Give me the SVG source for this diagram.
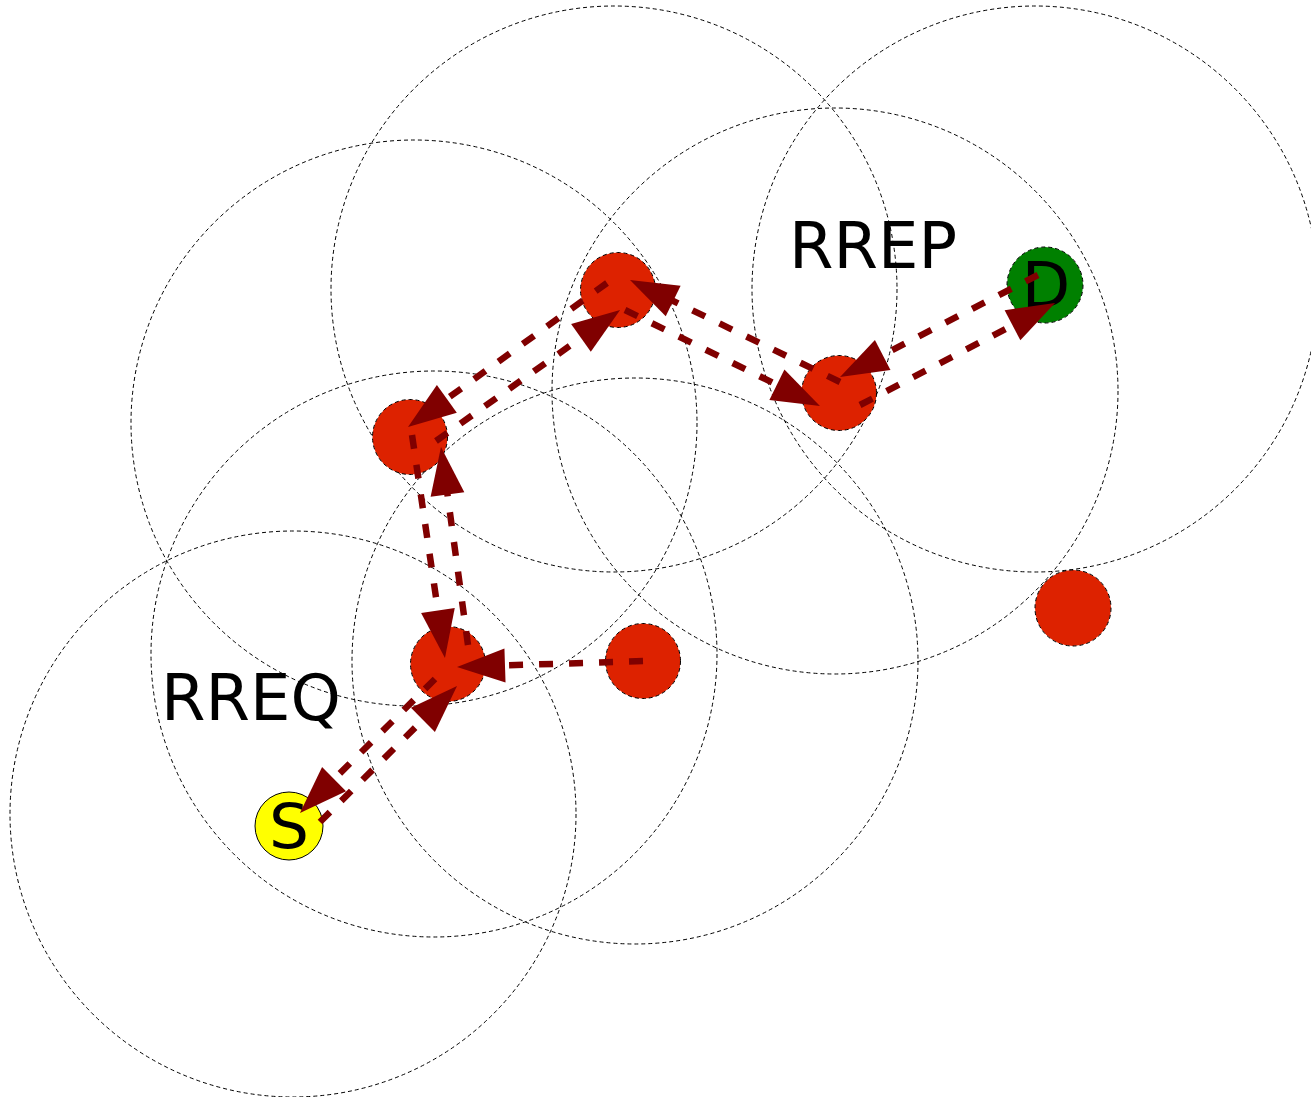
<svg xmlns="http://www.w3.org/2000/svg" width="1311" height="1097" viewBox="0 0 1311 1097">
  <style>
    .range { fill: none; stroke: #000; stroke-width: 1; stroke-dasharray: 4 3; }
    .node { fill: #dd2200; stroke: #000; stroke-width: 1; stroke-dasharray: 4 3; }
    .msg { fill: none; stroke: #800000; stroke-width: 6.5; stroke-dasharray: 14 16; marker-end: url(#head); }
    .label { font-family: "DejaVu Sans", sans-serif; font-size: 64px; fill: #000; }
    .nlabel { font-family: "DejaVu Sans", sans-serif; font-size: 63px; fill: #000; text-anchor: middle; }
  </style>
  <defs>
    <marker id="head" markerUnits="userSpaceOnUse" markerWidth="48" markerHeight="34" refX="36" refY="17" orient="auto" overflow="visible">
      <path d="M0,0 L48,17 L0,34 Z" fill="#800000"/>
    </marker>
  </defs>
  <rect width="1311" height="1097" fill="#fff"/>

  <!-- radio ranges -->
  <g id="ranges">
    <circle class="range" cx="293" cy="814" r="283"/>
    <circle class="range" cx="434" cy="654" r="283"/>
    <circle class="range" cx="635" cy="661" r="283"/>
    <circle class="range" cx="414" cy="423" r="283"/>
    <circle class="range" cx="614" cy="289" r="283"/>
    <circle class="range" cx="835" cy="391" r="283"/>
    <circle class="range" cx="1035" cy="289" r="283"/>
  </g>

  <!-- nodes -->
  <g id="node-s">
    <circle cx="289" cy="826" r="34" fill="#ffff00" stroke="#000" stroke-width="1"/>
    <text class="nlabel" x="289" y="848">S</text>
  </g>
  <g id="node-a"><circle class="node" cx="448" cy="664" r="37.5"/></g>
  <g id="node-b"><circle class="node" cx="643" cy="661" r="37.5"/></g>
  <g id="node-c"><circle class="node" cx="410" cy="437" r="37.5"/></g>
  <g id="node-e"><circle class="node" cx="618" cy="290" r="37.5"/></g>
  <g id="node-f"><circle class="node" cx="839" cy="393" r="37.5"/></g>
  <g id="node-g"><circle class="node" cx="1073" cy="608" r="38"/></g>
  <g id="node-d">
    <circle cx="1045" cy="285" r="38" fill="#008000" stroke="#000" stroke-width="1" stroke-dasharray="4 3"/>
    <text class="nlabel" x="1046" y="307">D</text>
  </g>

  <!-- route messages -->
  <g id="connectors">
    <line class="msg" x1="320" y1="822" x2="448.5" y2="694.5"/>
    <line class="msg" x1="435" y1="679" x2="308.5" y2="804.5"/>
    <line class="msg" x1="643" y1="661" x2="469" y2="666.6"/>
    <line class="msg" x1="468" y1="645" x2="442.6" y2="458.9"/>
    <line class="msg" x1="412" y1="435" x2="443.2" y2="646.1"/>
    <line class="msg" x1="436" y1="441" x2="610.3" y2="317"/>
    <line class="msg" x1="607" y1="283" x2="417.7" y2="420"/>
    <line class="msg" x1="840" y1="382" x2="640.8" y2="285.2"/>
    <line class="msg" x1="625" y1="310" x2="809.2" y2="400.7"/>
    <line class="msg" x1="1038" y1="275" x2="850.7" y2="371.5"/>
    <line class="msg" x1="860" y1="405" x2="1044.4" y2="308.6"/>
  </g>

  <!-- labels -->
  <text class="label" x="161" y="720">RREQ</text>
  <text class="label" x="789" y="268">RREP</text>
</svg>
